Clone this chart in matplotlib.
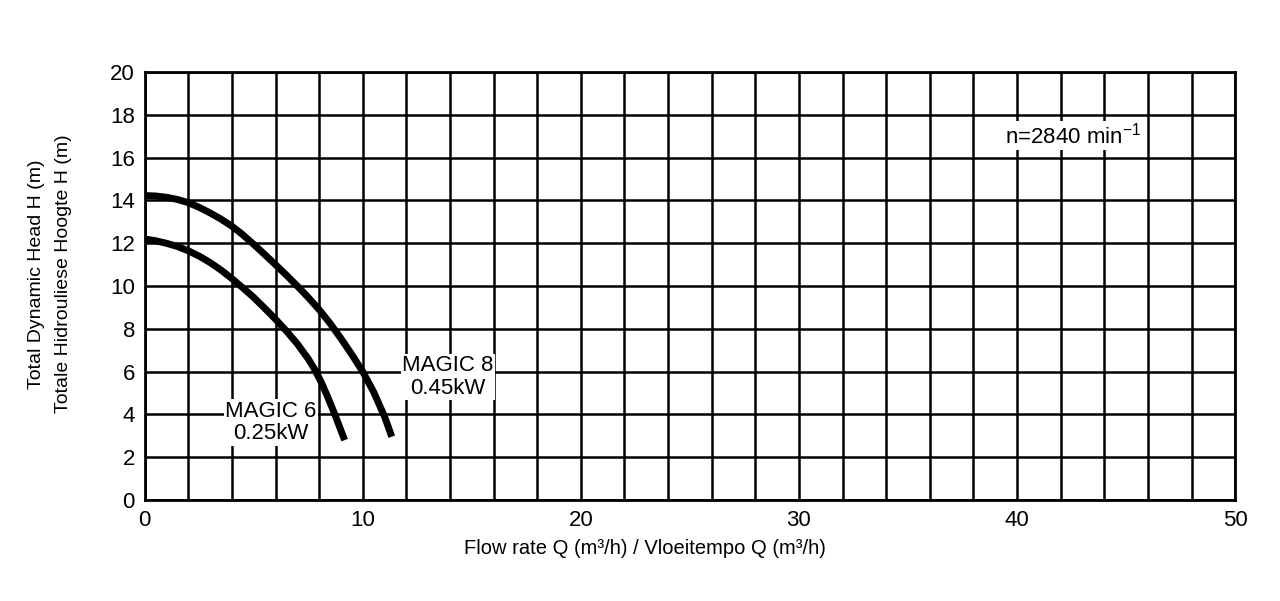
import numpy as np
import matplotlib
matplotlib.use("Agg")
import matplotlib.pyplot as plt

plt.rcParams["font.family"] = ["Liberation Sans", "DejaVu Sans"]

# ---------- data ----------
magic8_q = [0.0, 0.5, 1.0, 1.5, 2.0, 2.5, 3.0, 3.5, 4.0, 4.5, 5.0, 5.5, 6.0, 6.5,
            7.0, 7.5, 8.0, 8.5, 9.0, 9.5, 10.0, 10.5, 11.0, 11.33]
magic8_h = [14.23, 14.21, 14.15, 14.05, 13.9, 13.68, 13.42, 13.13, 12.8, 12.4, 11.95,
            11.48, 11.0, 10.51, 10.0, 9.47, 8.9, 8.26, 7.55, 6.8, 6.0, 5.05, 3.9, 2.96]

magic6_q = [0.0, 0.5, 1.0, 1.5, 2.0, 2.5, 3.0, 3.5, 4.0, 4.5, 5.0, 5.5, 6.0, 6.5,
            7.0, 7.5, 7.8, 8.1, 8.4, 8.7, 9.17]
magic6_h = [12.2, 12.12, 12.0, 11.85, 11.65, 11.4, 11.1, 10.75, 10.35, 9.92, 9.47,
            8.97, 8.45, 7.9, 7.3, 6.6, 6.1, 5.5, 4.8, 4.05, 2.8]

x_ticks = [0, 10, 20, 30, 40, 50]
y_ticks = list(range(0, 21, 2))
grid_x = list(range(0, 51, 2))

fig = plt.figure(figsize=(12.8, 6.01), dpi=100)
ax = fig.add_axes([0.113, 0.168, 0.852, 0.712])

for gx in grid_x:
    ax.axvline(gx, color="black", lw=1.8, zorder=1)
for gy in y_ticks:
    ax.axhline(gy, color="black", lw=1.8, zorder=1)

for q, h in ((magic8_q, magic8_h), (magic6_q, magic6_h)):
    ax.plot(q, h, color="black", lw=5, solid_capstyle="butt",
            solid_joinstyle="round", zorder=3)

box = dict(facecolor="white", edgecolor="none", pad=1.0)
ax.text(13.9, 5.75, "MAGIC 8\n0.45kW", ha="center", va="center", fontsize=16,
        linespacing=1.1, bbox=box, zorder=4)
ax.text(5.8, 3.62, "MAGIC 6\n0.25kW", ha="center", va="center", fontsize=16,
        linespacing=1.1, bbox=box, zorder=4)
ax.text(42.55, 17.05, r"n=2840 min$^{\mathregular{-1}}$", ha="center", va="center",
        fontsize=16, bbox=box, zorder=4)

ax.set_xlim(0, 50)
ax.set_ylim(0, 20)
ax.set_xticks(x_ticks)
ax.set_yticks(y_ticks)
ax.tick_params(length=0, labelsize=16, pad=7)
for s in ax.spines.values():
    s.set_linewidth(2)
    s.set_zorder(5)

ax.set_xlabel("Flow rate Q (m³/h) / Vloeitempo Q (m³/h)", fontsize=14.5)
ax.xaxis.set_label_coords(0.459, -0.09)
ax.set_ylabel("Total Dynamic Head H (m)\nTotale Hidrouliese Hoogte H (m)", fontsize=14,
              linespacing=1.75)
ax.yaxis.set_label_coords(-0.0665, 0.528)

fig.savefig("out.png", dpi=100)
